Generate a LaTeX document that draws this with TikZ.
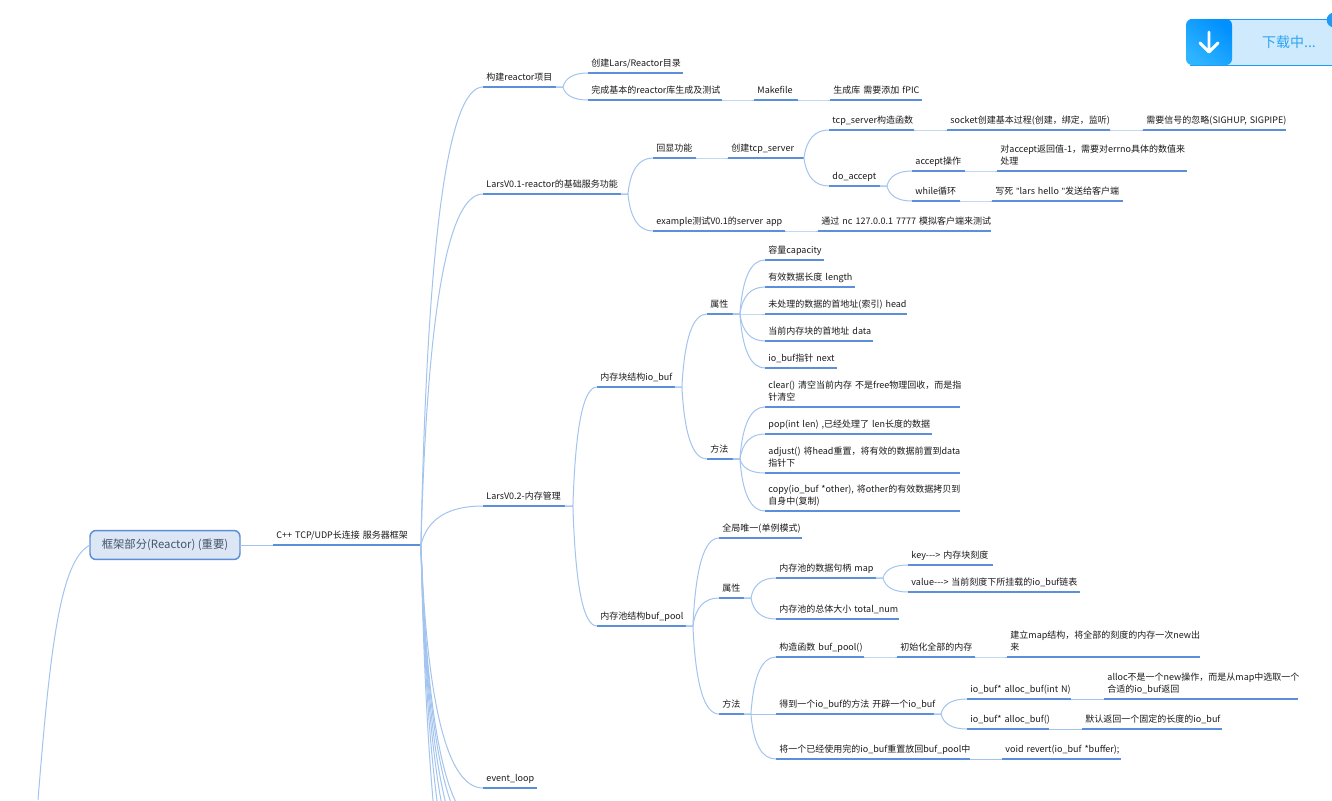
\documentclass[tikz,border=0pt]{standalone}
\usepackage{fontspec}
\setmainfont{Noto Sans CJK SC}
\newfontfamily\qfont{Liberation Sans}
\usetikzlibrary{calc}
\definecolor{uline}{HTML}{5B8FD9}
\definecolor{conn}{HTML}{A3C4EE}
\definecolor{txt}{HTML}{1A1A1A}
\definecolor{rootfill}{HTML}{DCE6F4}
\definecolor{roottext}{HTML}{44546A}
\definecolor{dlfill}{HTML}{D0EAFD}
\definecolor{dlline}{HTML}{1E9BF9}
\definecolor{dltext}{HTML}{2BA4F5}
\definecolor{dlA}{HTML}{2FB4FF}
\definecolor{dlB}{HTML}{0090FF}
\tikzset{
  topic/.style={anchor=south west,inner xsep=2.6pt,inner ysep=2.4pt,outer sep=0pt,align=left,text=txt,
    font=\fontsize{6.75}{9}\selectfont},
  underl/.style={draw=uline,line width=1.5pt},
  connline/.style={draw=conn,line width=0.75pt},
  rootbox/.style={draw=uline,fill=rootfill,line width=1.1pt,rounded corners=4.5pt,minimum width=112.5pt,minimum height=21.7pt,
    inner sep=0pt,text=roottext,font=\fontsize{8.5}{12}\selectfont,outer sep=0pt}
}
\newcommand\tp[5]{%
  \pgfmathsetlengthmacro\tw{((#3)-(#2)-7)*0.75pt}%
  \node[topic,text width=\tw] (#1) at (#2,#4) {\mbox{\strut #5}};
  \draw[underl] (#1.south west) -- (#1.south east);
}
\newcommand\tpp[6]{%
  \pgfmathsetlengthmacro\tw{((#3)-(#2)-7)*0.75pt}%
  \node[topic,text width=\tw] (#1) at (#2,#4) {\mbox{\strut #5}\\\mbox{\strut #6}};
  \draw[underl] (#1.south west) -- (#1.south east);
}
\newcommand\brc[3][0]{%
  \draw[connline] let \p1=($(#2)+(#1,0)$), \p2=(#3) in (#2) -- (\p1)
    .. controls ({\x1+0.1*(\x2-\x1)},{\y1+0.667*(\y2-\y1)}) and ({\x2-0.567*(\x2-\x1)},\y2) .. (\p2);
}
\newcommand\br[3][0]{\brc[#1]{#2.south east}{#3.south west}}
\newcommand\arw{-\kern0pt-\kern0pt->}
\newcommand\qq{{\qfont"}}
\begin{document}
\begin{tikzpicture}[x=0.75pt,y=-0.75pt]
\useasboundingbox (0,0) rectangle (1332,800);
\fill[white] (0,0) rectangle (1332,800);

% root
\node[rootbox] (root) at (165,545) {框架部分(Reactor) (重要)};
\tp{cpp}{273}{421}{545}{C++ TCP/UDP长连接 服务器框架}
\coordinate (offleft) at (38,800);

% main branches
\tp{ra}{483}{556}{87}{构建reactor项目}
\tp{rb}{483}{621}{194}{LarsV0.1-reactor的基础服务功能}
\tp{rc}{483}{565}{506}{LarsV0.2-内存管理}
\tp{rd}{483}{537}{788}{event\_loop}

% reactor project
\tp{a1}{588}{683}{73}{创建Lars/Reactor目录}
\tp{a2}{588}{722}{100}{完成基本的reactor库生成及测试}
\tp{a3}{754}{798}{100}{Makefile}
\tp{a4}{830}{922}{100}{生成库 需要添加 fPIC}

% V0.1
\tp{b1}{653}{696}{158}{回显功能}
\tp{b2}{728}{804}{158}{创建tcp\_server}
\tp{b3}{829}{914}{130}{tcp\_server构造函数}
\tp{b4}{947}{1110}{130}{socket创建基本过程(创建，绑定，监听)}
\tp{b5}{1143}{1286}{130}{需要信号的忽略(SIGHUP, SIGPIPE)}
\tp{b6}{829}{880}{186}{do\_accept}
\tp{b7}{912}{965}{171}{accept操作}
\tpp{b8}{997}{1187}{171}{对accept返回值-1，需要对errno具体的数值来}{处理}
\tp{b9}{912}{960}{201}{while循环}
\tp{b10}{992}{1123}{201}{写死 \qq lars hello \qq 发送给客户端}
\tp{b11}{653}{785}{231}{example测试V0.1的server app}
\tp{b12}{818}{991}{231}{通过 nc 127.0.0.1 7777 模拟客户端来测试}

% V0.2 io_buf
\tp{c0}{597}{675}{387}{内存块结构io\_buf}
\tp{c1}{707}{733}{314}{属性}
\tp{c2}{707}{733}{459}{方法}
\tp{c3}{765}{824}{260}{容量capacity}
\tp{c4}{765}{855}{287}{有效数据长度 length}
\tp{c5}{765}{907}{314}{未处理的数据的首地址(索引) head}
\tp{c6}{765}{873}{341}{当前内存块的首地址 data}
\tp{c7}{765}{837}{368}{io\_buf指针 next}
\tpp{c8}{765}{960}{407}{clear() 清空当前内存 不是free物理回收，而是指}{针清空}
\tp{c9}{765}{932}{434}{pop(int len) ,已经处理了 len长度的数据}
\tpp{c10}{765}{960}{473}{adjust() 将head重置，将有效的数据前置到data}{指针下}
\tpp{c11}{765}{960}{511}{copy(io\_buf *other), 将other的有效数据拷贝到}{自身中(复制)}

% V0.2 buf_pool
\tp{d0}{597}{686}{626}{内存池结构buf\_pool}
\tp{d1}{719}{802}{538}{全局唯一(单例模式)}
\tp{d2}{719}{744}{598}{属性}
\tp{d3}{719}{744}{714}{方法}
\tp{d4}{776}{876}{578}{内存池的数据句柄 map}
\tp{d5}{908}{993}{565}{key\arw{} 内存块刻度}
\tp{d6}{908}{1080}{592}{value\arw{} 当前刻度下所挂载的io\_buf链表}
\tp{d7}{776}{899}{619}{内存池的总体大小 total\_num}
\tp{d8}{776}{864}{657}{构造函数 buf\_pool()}
\tp{d9}{897}{975}{657}{初始化全部的内存}
\tpp{d10}{1007}{1200}{657}{建立map结构，将全部的刻度的内存一次new出}{来}
\tp{d11}{776}{934}{714}{得到一个io\_buf的方法 开辟一个io\_buf}
\tp{d12}{967}{1071}{699}{io\_buf* alloc\_buf(int N)}
\tpp{d13}{1104}{1298}{699}{alloc不是一个new操作，而是从map中选取一个}{合适的io\_buf返回}
\tp{d14}{967}{1049}{729}{io\_buf* alloc\_buf()}
\tp{d15}{1082}{1222}{729}{默认返回一个固定的长度的io\_buf}
\tp{d16}{776}{970}{759}{将一个已经使用完的io\_buf重置放回buf\_pool中}
\tp{d17}{1002}{1121}{759}{void revert(io\_buf *buffer);}

% connectors
\draw[connline] (root.west) .. controls (60,560) and (50,650) .. (offleft);
\draw[connline] (root.east) -- (cpp.south west);
\br{cpp}{ra} \br{cpp}{rb} \br{cpp}{rc} \br{cpp}{rd}
\coordinate (offa) at (483,826); \brc{cpp.south east}{offa}
\coordinate (offb) at (483,840); \brc{cpp.south east}{offb}
\coordinate (offc) at (483,861); \brc{cpp.south east}{offc}
\coordinate (offd) at (483,886); \brc{cpp.south east}{offd}
\coordinate (offe) at (483,923); \brc{cpp.south east}{offe}
\coordinate (offf) at (483,982); \brc{cpp.south east}{offf}
\br[7]{ra}{a1} \br[7]{ra}{a2} \br{a2}{a3} \br{a3}{a4}
\br[7]{rb}{b1} \br[7]{rb}{b11} \br{b1}{b2} \br{b11}{b12}
\br{b2}{b3} \br{b2}{b6} \br{b3}{b4} \br{b4}{b5}
\br[7]{b6}{b7} \br[7]{b6}{b9} \br{b7}{b8} \br{b9}{b10}
\br[8]{rc}{c0} \br[8]{rc}{d0}
\br[7]{c0}{c1} \br[7]{c0}{c2}
\br[7]{c1}{c3} \br[7]{c1}{c4} \br[7]{c1}{c5} \br[7]{c1}{c6} \br[7]{c1}{c7}
\br[7]{c2}{c8} \br[7]{c2}{c9} \br[7]{c2}{c10} \br[7]{c2}{c11}
\br[7]{d0}{d1} \br[7]{d0}{d2} \br[7]{d0}{d3}
\br[7]{d2}{d4} \br[7]{d2}{d7} \br[7]{d4}{d5} \br[7]{d4}{d6}
\br[7]{d3}{d8} \br[7]{d3}{d11} \br[7]{d3}{d16}
\br{d8}{d9} \br{d9}{d10}
\br[7]{d11}{d12} \br[7]{d11}{d14} \br{d12}{d13} \br{d14}{d15} \br{d16}{d17}

% download widget
\fill[dlfill] (1190,19) rectangle (1340,65);
\draw[dlline,line width=0.75pt] (1190,19) -- (1340,19) (1190,65) -- (1340,65);
\shade[rounded corners=4.5pt,top color=dlB,bottom color=dlA,shading angle=-40]
  (1186,19) rectangle (1232,65);
\draw[white,line width=2.2pt,line cap=round,line join=round]
  (1209,32) -- (1209,51) (1200,43) -- (1209,52) -- (1218,43);
\node[text=dltext,font=\fontsize{10.5}{12}\selectfont,inner sep=0pt] (dl) at (1289,42) {下载中...};
\fill[dlline] (1334,20) circle[radius=5.5pt];
\end{tikzpicture}
\end{document}
